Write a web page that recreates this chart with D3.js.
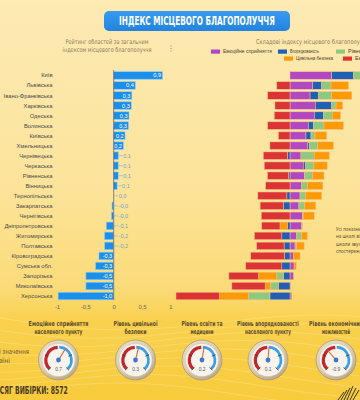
<!DOCTYPE html>
<html><head><meta charset="utf-8">
<script src="https://cdn.jsdelivr.net/npm/d3@7"></script>
<style>
html,body{margin:0;padding:0;background:#fce49c;overflow:hidden;}
svg{display:block;}
</style></head>
<body>
<svg id="c" width="360" height="400"></svg>
<script>
// ---------- DATA ----------
const regions = ["Київ","Львівська","Івано-Франківська","Харківська","Одеська","Волинська","Київська","Хмельницька","Чернівецька","Черкаська","Рівненська","Вінницька","Тернопільська","Закарпатська","Чернігівська","Дніпропетровська","Житомирська","Полтавська","Кіровоградська","Сумська обл.","Запорізька","Миколаївська","Херсонська"];
const indexValues = [0.86,0.38,0.32,0.31,0.27,0.26,0.2,0.17,0.08,0.08,0.08,0.06,0.0,-0.03,-0.04,-0.13,-0.16,-0.16,-0.26,-0.32,-0.49,-0.49,-0.98];
const emotional = [1.83,1.00,0.88,1.11,1.07,0.80,0.70,0.78,0.48,0.58,0.63,0.51,0.44,0.39,0.54,0.51,0.29,0.22,0.15,0.18,0.15,0.02,0.07];
const orderliness = [0.95,0.39,0.36,0.72,0.39,0.22,0.22,0.07,-0.12,0.11,-0.07,0.0,-0.14,-0.29,0.0,-0.12,-0.36,-0.26,-0.25,-0.36,-0.29,-0.51,-0.88];
const education = [0.90,0.41,0.59,0.19,0.39,0.47,0.18,0.37,0.58,0.36,0.35,0.25,0.25,0.26,0.04,0.04,0.22,0.07,0.0,0.0,-0.29,-0.36,-0.95];
const safety = [0.80,0.76,0.88,0.29,0.37,0.85,0.51,0.68,0.66,0.58,0.51,0.68,0.70,0.48,0.48,-0.32,0.25,0.33,0.29,0.09,-0.81,-0.22,-1.27];
const economic = [0.0,-0.58,-0.98,-0.66,-0.69,-0.98,-0.51,-0.88,-1.05,-1.13,-0.92,-1.07,-1.27,-1.02,-1.26,-0.80,-1.20,-1.20,-1.47,-1.58,-1.29,-1.46,-1.90];
const componentKeys = ["emotional","orderliness","education","safety","economic"];
const componentNames = ["Емоційне сприйняття","Впорядкованість","Рівень освіти та медицини","Цивільна безпека","Економічні можливості"];
const componentColors = ["#b247c3","#1f60b6","#8dca80","#ff9a05","#dc3434"];
const axisTicks = [-1,-0.5,0,0.5,1];
const axisTickLabels = ["-1","-0,5","0","0,5","1"];
const gaugeTitles = [["Емоційне сприйняття","населеного пункту"],["Рівень цивільної","безпеки"],["Рівень освіти та","медицини"],["Рівень впорядкованості","населеного пункту"],["Рівень економічних","можливостей"]];
const gaugeValues = [0.7,0.3,0.2,0.1,-0.9];
const sampleText = "ОБСЯГ ВИБІРКИ: 8572";

// ---------- SETUP ----------
const svg = d3.select("#c");
const FN = "'Liberation Sans Narrow','DejaVu Sans Condensed','Roboto',sans-serif";
const FS = "'Liberation Sans','Roboto',sans-serif";
// squeeze/stretch a text horizontally to a target width, around its x anchor
function fit(sel, w){
  sel.each(function(){
    const nat = this.getComputedTextLength();
    const ax = +this.getAttribute("x") || 0;
    const k = w / nat;
    d3.select(this).attr("transform",`translate(${ax},0) scale(${k},1) translate(${-ax},0)`);
  });
  return sel;
}
function condense(sel, k){
  sel.each(function(){ fit(d3.select(this), this.getComputedTextLength()*k); });
  return sel;
}

const defs = svg.append("defs");
const bg = defs.append("linearGradient").attr("id","bg").attr("x1",0).attr("x2",0).attr("y1",0).attr("y2",1);
[[0,"#fdeab4"],[0.45,"#fce49c"],[0.72,"#fbdb79"],[0.8,"#f9d14e"],[1,"#f8cb3c"]].forEach(s=>bg.append("stop").attr("offset",s[0]).attr("stop-color",s[1]));
const bez = defs.append("radialGradient").attr("id","bez").attr("cx","40%").attr("cy","35%").attr("r","70%");
[[0,"#f4ecdb"],[0.7,"#d9ccb1"],[1,"#b3a282"]].forEach(s=>bez.append("stop").attr("offset",s[0]).attr("stop-color",s[1]));
const tb = defs.append("linearGradient").attr("id","tb").attr("x1",0).attr("x2",0).attr("y1",0).attr("y2",1);
[[0,"#3a9af0"],[1,"#2283de"]].forEach(s=>tb.append("stop").attr("offset",s[0]).attr("stop-color",s[1]));

svg.append("rect").attr("width",360).attr("height",400).attr("fill","url(#bg)");

// decorative waves
const waveLine = d3.line().curve(d3.curveBasis);
for (let k=0;k<9;k++){
  const pts = [];
  for (let xx=-20;xx<=380;xx+=40){ pts.push([xx, 318 + k*9 + 10*Math.sin((xx+k*25)/70) + xx*0.02]); }
  svg.append("path").attr("d",waveLine(pts)).attr("fill","none").attr("stroke","#fff").attr("stroke-opacity",0.28).attr("stroke-width",0.7);
}

// title
svg.append("rect").attr("x",104).attr("y",11).attr("width",186).attr("height",20).attr("rx",5).attr("fill","url(#tb)");
fit(svg.append("text").attr("x",197).attr("y",25.5).attr("text-anchor","middle").attr("fill","#fff")
  .attr("font-family",FN).attr("font-weight","bold").attr("font-size",11.5).text("ІНДЕКС МІСЦЕВОГО БЛАГОПОЛУЧЧЯ"),156);

// subtitles
const subC = "#8c7b5a";
fit(svg.append("text").attr("x",107).attr("y",44).attr("text-anchor","middle").attr("fill",subC).attr("font-family",FN).attr("font-size",6.6).text("Рейтинг областей за загальним"),83);
fit(svg.append("text").attr("x",107).attr("y",52).attr("text-anchor","middle").attr("fill",subC).attr("font-family",FN).attr("font-size",6.6).text("індексом місцевого благополуччя"),89);
[46,48.5,51].forEach(yy=>svg.append("circle").attr("cx",171).attr("cy",yy).attr("r",0.6).attr("fill",subC));
fit(svg.append("text").attr("x",256).attr("y",44).attr("fill",subC).attr("font-family",FN).attr("font-size",6.6).text("Складові індексу місцевого благополуччя"),113);

// legend
const legendPos = [[211,49.5],[278,49.5],[336,49.5],[284,56.5],[343,56.5]];
const legendW = [49,29,68,37,58];
componentKeys.forEach((k,i)=>{
  const [lx,ly] = legendPos[i];
  svg.append("rect").attr("x",lx).attr("y",ly).attr("width",9).attr("height",4.2).attr("fill",componentColors[i]);
  fit(svg.append("text").attr("x",lx+12).attr("y",ly+3.8).attr("fill","#4d4030").attr("font-family",FS).attr("font-size",4.6).text(componentNames[i]),legendW[i]);
});

// ---------- LEFT CHART ----------
const y = d3.scaleBand().domain(regions).range([70.5,301]).paddingInner(0.25).paddingOuter(0.12);
const x = d3.scaleLinear().domain([-1,1]).range([57,170.4]);
const left = svg.append("g");
left.selectAll("text.lab").data(regions).join("text").attr("class","lab")
  .attr("x",52.5).attr("y",d=>y(d)+y.bandwidth()/2+2).attr("text-anchor","end")
  .attr("fill","#4a4a4a").attr("font-family",FS).attr("font-size",5.8).text(d=>d);
left.selectAll("rect.bar").data(indexValues).join("rect").attr("class","bar")
  .attr("x",d=>x(Math.min(0,d))).attr("width",d=>Math.abs(x(d)-x(0)))
  .attr("y",(d,i)=>y(regions[i])).attr("height",y.bandwidth())
  .attr("fill","#1b8fea").attr("stroke","#8fcaf7").attr("stroke-width",0.6);
left.append("line").attr("x1",x(0)).attr("x2",x(0)).attr("y1",70).attr("y2",300).attr("stroke","#6a6a6a").attr("stroke-width",0.8);
const fmt = v => v.toFixed(1).replace(".",",");
indexValues.forEach((v,i)=>{
  const cy = y(regions[i])+y.bandwidth()/2;
  const rEnd = x(Math.max(0,v));
  if (Math.abs(v) >= 0.165){
    left.append("text").attr("x",rEnd-1.5).attr("y",cy+2).attr("text-anchor","end").attr("fill","#fff")
      .attr("font-family",FS).attr("font-size",5.5).text(fmt(v));
  } else {
    left.append("line").attr("x1",rEnd+0.5).attr("x2",rEnd+4.5).attr("y1",cy).attr("y2",cy).attr("stroke","#7fb0d3").attr("stroke-width",0.6);
    left.append("text").attr("x",rEnd+5).attr("y",cy+2).attr("fill","#6fa3c9").attr("font-family",FS).attr("font-size",5.5).text(fmt(v));
  }
});
const ax = left.append("g").attr("transform","translate(0,302)")
  .call(d3.axisBottom(x).tickValues(axisTicks).tickSize(0).tickFormat((d,i)=>axisTickLabels[i]));
ax.select(".domain").remove();
ax.selectAll("text").attr("fill","#666").attr("font-family",FS).attr("font-size",5.8);

// ---------- RIGHT STACKED CHART ----------
const rows = regions.map((r,i)=>({region:r, emotional:emotional[i], orderliness:orderliness[i], education:education[i], safety:safety[i], economic:economic[i]}));
const series = d3.stack().keys(componentKeys).offset(d3.stackOffsetDiverging)(rows);
const xs = d3.scaleLinear().domain([-5,5]).range([176,404]);
const right = svg.append("g");
series.forEach((s,si)=>{
  right.selectAll("rect.s"+si).data(s).join("rect").attr("class","s"+si)
    .attr("x",d=>xs(Math.min(d[0],d[1]))).attr("width",d=>Math.abs(xs(d[1])-xs(d[0])))
    .attr("y",d=>y(d.data.region)).attr("height",y.bandwidth())
    .attr("fill",componentColors[si]).attr("stroke","#f6bd86").attr("stroke-width",0.5);
});

// side note
["Усі показники вимірюються","на шкалі від -5 до +5,","шкали звужено для","спостереження"].forEach((t,i)=>
  condense(svg.append("text").attr("x",336).attr("y",231+i*7.4).attr("fill","#5a4a30").attr("font-family",FN).attr("font-size",5.4).text(t),0.85));

// ---------- GAUGES ----------
const gaugeX = [58.5,135.5,202,268,336];
const gaugeTitleW = [[60,48],[44,22],[41,23],[62,46],[54,28]];
const gy = 360;
const ang = d3.scaleLinear().domain([-3,3]).range([-135,135]);
const arc = d3.arc();
gaugeValues.forEach((v,i)=>{
  const g = svg.append("g").attr("transform",`translate(${gaugeX[i]},${gy})`);
  gaugeTitles[i].forEach((t,j)=>fit(g.append("text").attr("x",0).attr("y",-34.5+j*8.4).attr("text-anchor","middle")
    .attr("fill","#5e4b2c").attr("font-family",FN).attr("font-weight","bold").attr("font-size",7).text(t),gaugeTitleW[i][j]));
  g.append("circle").attr("r",20).attr("fill","url(#bez)").attr("stroke","#a69370").attr("stroke-width",0.7);
  g.append("circle").attr("r",16.6).attr("fill","#f8f4ec").attr("stroke","#cbbd9f").attr("stroke-width",0.5);
  g.append("path").attr("d",arc({innerRadius:11,outerRadius:14.2,startAngle:-2.35,endAngle:-0.06})).attr("fill","#c2272d");
  g.append("path").attr("d",arc({innerRadius:11.5,outerRadius:14.2,startAngle:0.06,endAngle:2.35})).attr("fill","#39a0e6");
  [-2.35,-1.2,1.2,2.35].forEach(a=>{
    g.append("line").attr("x1",Math.sin(a)*10.5).attr("y1",-Math.cos(a)*10.5).attr("x2",Math.sin(a)*14.5).attr("y2",-Math.cos(a)*14.5)
      .attr("stroke","#3a2e2e").attr("stroke-width",0.7);
  });
  const a = ang(v)*Math.PI/180;
  g.append("line").attr("x1",-Math.sin(a)*2).attr("y1",Math.cos(a)*2).attr("x2",Math.sin(a)*12.5).attr("y2",-Math.cos(a)*12.5)
    .attr("stroke","#e5673a").attr("stroke-width",1.1).attr("stroke-linecap","round");
  g.append("circle").attr("r",2.4).attr("fill","#3c78d2");
  g.append("text").attr("x",0).attr("y",10.5).attr("text-anchor","middle").attr("fill","#555").attr("font-family",FS).attr("font-size",4.8).text(String(v));
});

// bottom-left texts
fit(svg.append("text").attr("x",-22).attr("y",354).attr("fill","#6b5633").attr("font-family",FN).attr("font-size",7).text("Середні значення"),51);
fit(svg.append("text").attr("x",-22).attr("y",363.5).attr("fill","#6b5633").attr("font-family",FN).attr("font-size",7).text("по Україні"),32);
fit(svg.append("text").attr("x",-10).attr("y",394).attr("fill","#4a3a22").attr("font-family",FN).attr("font-weight","bold").attr("font-size",10.5).text(sampleText),78);

// logo
const lg = svg.append("g").attr("transform","translate(338,385)");
for (let k=0;k<6;k++){
  lg.append("line").attr("x1",k*3).attr("y1",15).attr("x2",k*3+6).attr("y2",Math.abs(k-3)*2+1).attr("stroke","#222").attr("stroke-width",0.9);
}
</script>
</body></html>
